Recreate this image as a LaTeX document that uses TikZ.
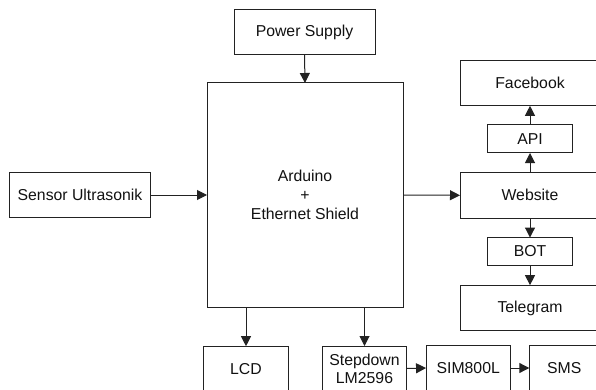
\documentclass[tikz,border=0pt]{standalone}
\usepackage{fontspec}
\setmainfont{Liberation Sans}
\usetikzlibrary{arrows.meta}
\definecolor{blkInk}{HTML}{111111}
\definecolor{blkLine}{HTML}{222222}
\tikzset{
  blk diagram/.style={
    draw=blkLine, line width=1pt,
    >={Triangle[length=10pt,width=10pt]},
    every node/.style={font=\fontsize{15.8}{19}\selectfont,
      text=blkInk, inner sep=0pt, outer sep=0pt},
  },
  blk box/.style={draw=blkLine, rectangle, align=center},
  blk link/.style={->, draw=blkLine}
}
\begin{document}
\begin{tikzpicture}[blk diagram,x=1pt,y=-1pt]
    \useasboundingbox (0,0) rectangle (596,390);
    \clip (0,0) rectangle (596,390);
    % blocks
    \node[blk box,minimum width=141pt,minimum height=45pt] (psu) at (304.5,32.5) {Power Supply};
    \node[blk box,minimum width=196pt,minimum height=224pt] (ard) at (305,195)
      {Arduino\\+\\Ethernet Shield};
    \node[blk box,minimum width=141pt,minimum height=45pt] (sensor) at (80,195) {Sensor Ultrasonik};
    \node[blk box,minimum width=140pt,minimum height=46pt] (web) at (530,195.3) {Website};
    \node[blk box,minimum width=140pt,minimum height=45pt] (fb) at (530,83.3) {Facebook};
    \node[blk box,minimum width=84.6pt,minimum height=28pt] (api) at (530,139) {API};
    \node[blk box,minimum width=84.6pt,minimum height=27.5pt] (bot) at (530,251.3) {BOT};
    \node[blk box,minimum width=140pt,minimum height=45.7pt] (tele) at (530,308) {Telegram};
    \node[blk box,minimum width=85.4pt,minimum height=45pt] (lcd) at (246,368.7) {LCD};
    \node[blk box,minimum width=84.4pt,minimum height=45pt,
      font=\fontsize{15.8}{18}\selectfont] (step) at (364.5,368.5) {Stepdown\\LM2596};
    \node[blk box,minimum width=84.3pt,minimum height=45pt] (sim) at (468.2,368) {SIM800L};
    \node[blk box,minimum width=70pt,minimum height=45pt] (sms) at (564.3,368) {SMS};
    % links
    \draw[blk link] (psu.south) -- (ard.north);
    \draw[blk link] (sensor.east) -- (ard.west);
    \draw[blk link] (ard.east) -- (web.west);
    \draw[blk link] (web.north) -- (api.south);
    \draw[blk link] (api.north) -- (fb.south);
    \draw[blk link] (web.south) -- (bot.north);
    \draw[blk link] (bot.south) -- (tele.north);
    \draw[blk link] (lcd.north |- ard.south) -- (lcd.north);
    \draw[blk link] (step.north |- ard.south) -- (step.north);
    \draw[blk link] (step.east) -- (sim.west);
    \draw[blk link] (sim.east) -- (sms.west);
  \end{tikzpicture}
\end{document}
